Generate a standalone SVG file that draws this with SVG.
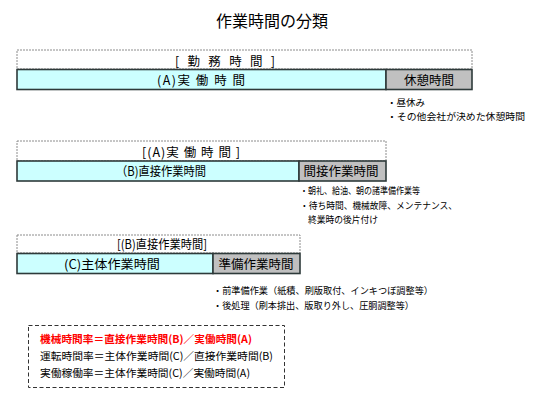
<svg xmlns="http://www.w3.org/2000/svg" width="540" height="400" viewBox="0 0 540 400">
<style>
text{font-family:"Noto Sans CJK JP","Noto Sans CJK SC",sans-serif;fill:#000}
.t{font-size:16px}
.h{font-size:12.5px}
.n{font-size:9.5px}
.f{font-size:10.5px}
.red{fill:#ff0000;font-weight:bold}
.outer{fill:#fff;stroke:#8c8c8c;stroke-width:1;stroke-dasharray:2 1}
.main{fill:#ccffff;stroke:#2e3a3a;stroke-width:1.6}
.sub{fill:#c0c0c0;stroke:#2e3a3a;stroke-width:1.6}
.fbox{fill:#fff;stroke:#333;stroke-width:1;stroke-dasharray:4 2.5}
</style>
<rect width="540" height="400" fill="#fff"/>
<text id="title" class="t" x="272" y="27" text-anchor="middle">作業時間の分類</text>

<g id="block1">
<rect class="outer" x="17" y="50" width="455" height="19"/>
<text class="h" x="175" y="66" textLength="100" lengthAdjust="spacing">[ 勤 務 時 間 ]</text>
<rect class="main" x="17" y="69.5" width="369" height="20"/>
<text class="h" x="157" y="85" textLength="88" lengthAdjust="spacing">(A)実 働 時 間</text>
<rect class="sub" x="386" y="69.5" width="86" height="20"/>
<text class="h" x="429" y="85" text-anchor="middle">休憩時間</text>
<text class="n" x="387" y="106">・昼休み</text>
<text class="n" x="387" y="120" textLength="138" lengthAdjust="spacingAndGlyphs">・その他会社が決めた休憩時間</text>
</g>

<g id="block2">
<rect class="outer" x="17" y="141" width="369" height="20"/>
<text class="h" x="142" y="157" textLength="98" lengthAdjust="spacing">[(A)実 働 時 間 ]</text>
<rect class="main" x="17" y="161" width="282" height="20"/>
<text class="h" x="116" y="176" textLength="90" lengthAdjust="spacingAndGlyphs">（B)直接作業時間</text>
<rect class="sub" x="299" y="161" width="87" height="20"/>
<text class="h" x="341" y="176" text-anchor="middle">間接作業時間</text>
<text class="n" x="300" y="194" textLength="120" lengthAdjust="spacingAndGlyphs">・朝礼、給油、朝の諸準備作業等</text>
<text class="n" x="300" y="209" textLength="157" lengthAdjust="spacingAndGlyphs">・待ち時間、機械故障、メンテナンス、</text>
<text class="n" x="308" y="222.5" textLength="70" lengthAdjust="spacingAndGlyphs">終業時の後片付け</text>
</g>

<g id="block3">
<rect class="outer" x="17" y="235" width="283" height="18"/>
<text class="h" x="117" y="249" textLength="90" lengthAdjust="spacingAndGlyphs">[(B)直接作業時間]</text>
<rect class="main" x="17" y="253.5" width="196" height="20"/>
<text class="h" x="64" y="269" textLength="96" lengthAdjust="spacingAndGlyphs">(C)主体作業時間</text>
<rect class="sub" x="213" y="253.5" width="87" height="20"/>
<text class="h" x="256" y="269" text-anchor="middle">準備作業時間</text>
<text class="n" x="213" y="294" textLength="220" lengthAdjust="spacingAndGlyphs">・前準備作業（紙積、刷版取付、インキつぼ調整等）</text>
<text class="n" x="213" y="309" textLength="201" lengthAdjust="spacingAndGlyphs">・後処理（刷本排出、版取り外し、圧胴調整等）</text>
</g>

<g id="formulas">
<rect class="fbox" x="28.5" y="325.5" width="256" height="62"/>
<text class="f red" x="40" y="343" textLength="212" lengthAdjust="spacingAndGlyphs">機械時間率＝直接作業時間(B)／実働時間(A)</text>
<text class="f" x="40" y="360" textLength="233" lengthAdjust="spacingAndGlyphs">運転時間率＝主体作業時間(C)／直接作業時間(B)</text>
<text class="f" x="40" y="377" textLength="210" lengthAdjust="spacingAndGlyphs">実働稼働率＝主体作業時間(C)／実働時間(A)</text>
</g>
</svg>
